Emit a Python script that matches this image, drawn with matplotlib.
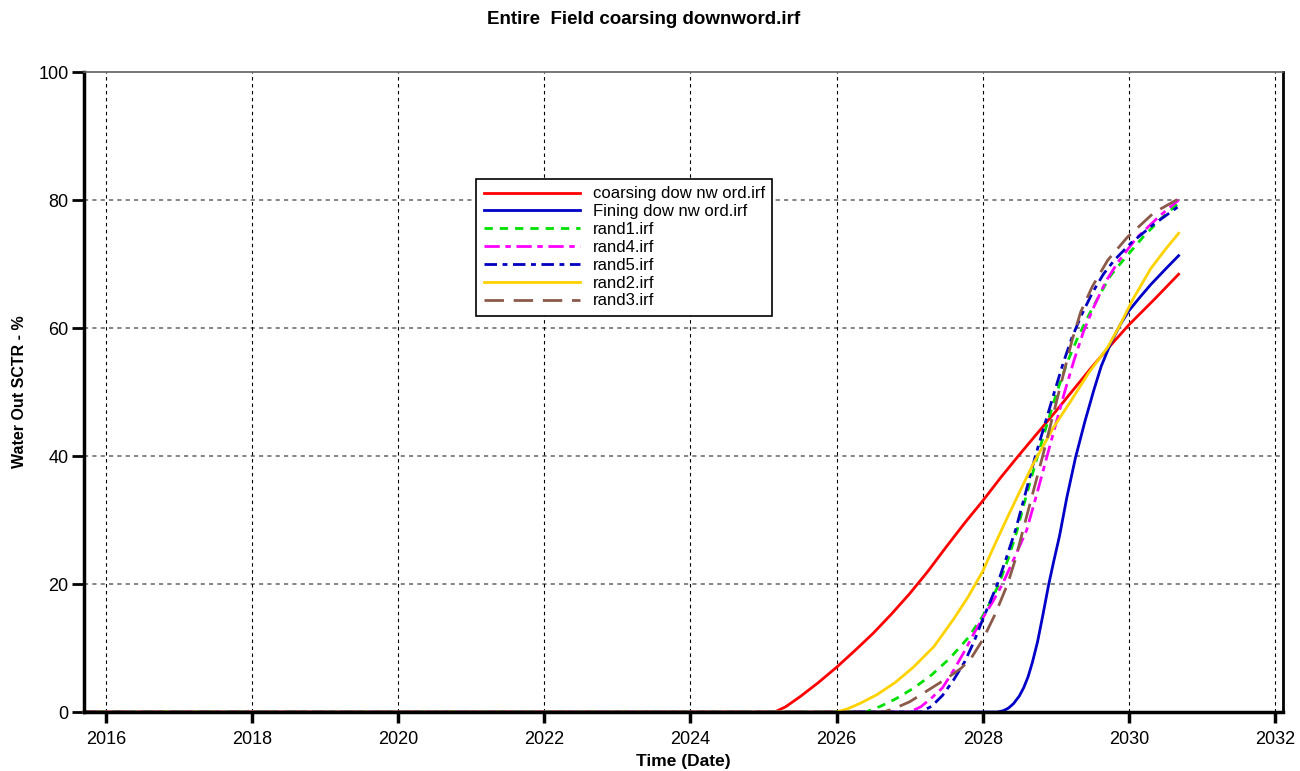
import matplotlib
matplotlib.use("Agg")
from matplotlib import pyplot as plt

plt.rcParams["font.family"] = ["Liberation Sans", "DejaVu Sans"]
plt.rcParams["lines.scale_dashes"] = False

# Time (decimal year) / water out SCTR (%)
coarsing_t = [2015.7, 2025.15, 2025.3, 2025.5, 2025.75, 2026.0, 2026.25, 2026.5, 2026.75,
              2027.0, 2027.25, 2027.5, 2027.75, 2028.0, 2028.25, 2028.5, 2028.75, 2029.0,
              2029.25, 2029.5, 2029.75, 2030.0, 2030.35, 2030.68]
coarsing_v = [0, 0, 0.8, 2.4, 4.6, 7.0, 9.6, 12.3, 15.3, 18.5, 22.0, 25.8, 29.5, 33.0,
              36.7, 40.2, 43.6, 47.0, 50.5, 54.0, 57.3, 60.5, 64.5, 68.4]

fining_t = [2015.7, 2028.2, 2028.28, 2028.35, 2028.42, 2028.5, 2028.56, 2028.62, 2028.68,
            2028.75, 2028.82, 2028.9, 2028.97, 2029.05, 2029.15, 2029.27, 2029.4, 2029.52,
            2029.62, 2029.75, 2029.88, 2030.0, 2030.15, 2030.3, 2030.5, 2030.68]
fining_v = [0, 0, 0.2, 0.6, 1.3, 2.5, 3.8, 5.5, 7.8, 11.0, 15.0, 19.8, 23.5, 27.5, 33.5,
            39.8, 45.5, 50.3, 54.0, 57.6, 60.5, 62.7, 64.8, 66.8, 69.2, 71.3]

rand1_t = [2015.7, 2026.4, 2026.6, 2026.8, 2027.05, 2027.3, 2027.55, 2027.8, 2028.0,
           2028.12, 2028.22, 2028.35, 2028.47, 2028.6, 2028.75, 2028.88, 2029.0, 2029.15,
           2029.3, 2029.45, 2029.6, 2029.75, 2029.9, 2030.2, 2030.45, 2030.68]
rand1_v = [0, 0, 0.9, 2.0, 3.7, 5.8, 8.4, 11.6, 15.0, 17.5, 20.0, 24.0, 28.4, 34.0, 40.0,
           45.0, 49.5, 54.5, 58.5, 62.0, 65.2, 68.2, 70.3, 74.3, 77.2, 79.5]

rand4_t = [2015.7, 2027.0, 2027.15, 2027.3, 2027.45, 2027.6, 2027.75, 2027.88, 2028.0,
           2028.14, 2028.27, 2028.43, 2028.6, 2028.75, 2028.88, 2029.0, 2029.12, 2029.25,
           2029.38, 2029.52, 2029.68, 2029.85, 2030.1, 2030.4, 2030.68]
rand4_v = [0, 0, 0.8, 2.2, 3.8, 6.5, 9.5, 12.3, 14.7, 17.3, 20.0, 24.0, 28.4, 34.5, 40.0,
           45.0, 50.0, 55.0, 59.5, 63.3, 67.2, 70.3, 74.0, 77.3, 80.0]

rand5_t = [2015.7, 2027.15, 2027.3, 2027.45, 2027.6, 2027.75, 2027.88, 2028.0, 2028.1,
           2028.2, 2028.32, 2028.45, 2028.58, 2028.72, 2028.85, 2028.98, 2029.1, 2029.22,
           2029.35, 2029.5, 2029.65, 2029.8, 2030.03, 2030.35, 2030.68]
rand5_v = [0, 0, 0.9, 2.6, 5.0, 7.8, 11.0, 14.5, 17.2, 20.0, 24.0, 28.5, 34.0, 40.0, 45.0,
           50.0, 54.5, 58.5, 62.0, 65.5, 68.4, 70.6, 73.3, 76.3, 79.0]

rand2_t = [2015.7, 2026.0, 2026.15, 2026.33, 2026.55, 2026.8, 2027.05, 2027.33, 2027.6,
           2027.8, 2028.0, 2028.15, 2028.3, 2028.5, 2028.7, 2028.97, 2029.2, 2029.45,
           2029.71, 2029.88, 2030.05, 2030.3, 2030.5, 2030.68]
rand2_v = [0, 0, 0.5, 1.4, 2.7, 4.6, 7.0, 10.2, 14.5, 18.0, 22.0, 25.8, 29.5, 34.3, 39.0,
           44.5, 48.5, 53.0, 57.0, 60.5, 64.4, 69.3, 72.3, 74.8]

rand3_t = [2015.7, 2026.64, 2026.8, 2027.0, 2027.25, 2027.5, 2027.7, 2027.84, 2028.0,
           2028.17, 2028.34, 2028.45, 2028.55, 2028.68, 2028.82, 2028.92, 2029.02, 2029.12,
           2029.22, 2029.34, 2029.5, 2029.71, 2029.98, 2030.34, 2030.68]
rand3_v = [0, 0, 0.6, 1.6, 3.4, 5.2, 6.8, 8.4, 11.3, 15.3, 20.0, 24.0, 28.4, 34.0, 40.0,
           44.5, 49.0, 53.5, 58.0, 62.5, 66.5, 70.6, 74.2, 78.0, 80.2]

year_ticks = list(range(2016, 2033, 2))
value_ticks = [0, 20, 40, 60, 80, 100]

fig = plt.figure(figsize=(13, 7.71), dpi=100)
ax = fig.add_axes([0.0646, 0.0765, 0.9224, 0.8301])

lw = 2.0
ax.plot(coarsing_t, coarsing_v, color="#ff0000", lw=lw, label="coarsing dow nw ord.irf", clip_on=False)
ax.plot(fining_t, fining_v, color="#0000c8", lw=lw, label="Fining dow nw ord.irf", clip_on=False)
ax.plot(rand1_t, rand1_v, color="#00e000", lw=lw, dashes=(6, 5), label="rand1.irf", clip_on=False)
ax.plot(rand4_t, rand4_v, color="#ff00ff", lw=lw, dashes=(11, 4, 4, 4), label="rand4.irf", clip_on=False)
ax.plot(rand5_t, rand5_v, color="#0000c0", lw=lw, dashes=(9, 4, 3.5, 4), label="rand5.irf", clip_on=False)
ax.plot(rand2_t, rand2_v, color="#ffd200", lw=lw, label="rand2.irf", clip_on=False)
ax.plot(rand3_t, rand3_v, color="#8b5a4a", lw=lw, dashes=(14, 7), label="rand3.irf", clip_on=False)

ax.set_xlim(2015.7, 2032.11)
ax.set_ylim(0, 100)
ax.set_xticks(year_ticks)
ax.set_yticks(value_ticks)
ax.tick_params(axis="x", direction="out", length=8, width=2.5, labelsize=13, pad=6)
ax.tick_params(axis="y", direction="out", length=9, width=2.0, labelsize=13, pad=2)

ax.xaxis.grid(True, color="black", lw=0.8, linestyle=(0, (2.5, 2.5)))
for v in value_ticks[1:-1]:
    ax.axhline(v, color="#707070", lw=1.2, linestyle=(0, (3, 3)), zorder=0.5)

ax.spines["left"].set_linewidth(2.5)
ax.spines["bottom"].set_linewidth(2.5)
ax.spines["right"].set_linewidth(2.0)
ax.spines["top"].set_linewidth(1.2)
ax.spines["top"].set_color("#606060")

ax.set_xlabel("Time (Date)", fontsize=12.5, fontweight="bold", labelpad=4)
ax.set_ylabel("Water Out SCTR - %", fontsize=11.5, fontweight="bold", labelpad=8)
fig.suptitle("Entire  Field coarsing downword.irf", x=0.495, y=0.986, fontsize=13.5, fontweight="bold")

leg = ax.legend(loc="upper left", bbox_to_anchor=(0.327, 0.833), fontsize=12,
                handlelength=5.8, labelspacing=0.17, borderpad=0.45, handletextpad=0.75,
                fancybox=False, framealpha=1, borderaxespad=0)
leg.get_frame().set_edgecolor("black")
leg.get_frame().set_linewidth(1.2)

fig.savefig("out.png", dpi=100)
